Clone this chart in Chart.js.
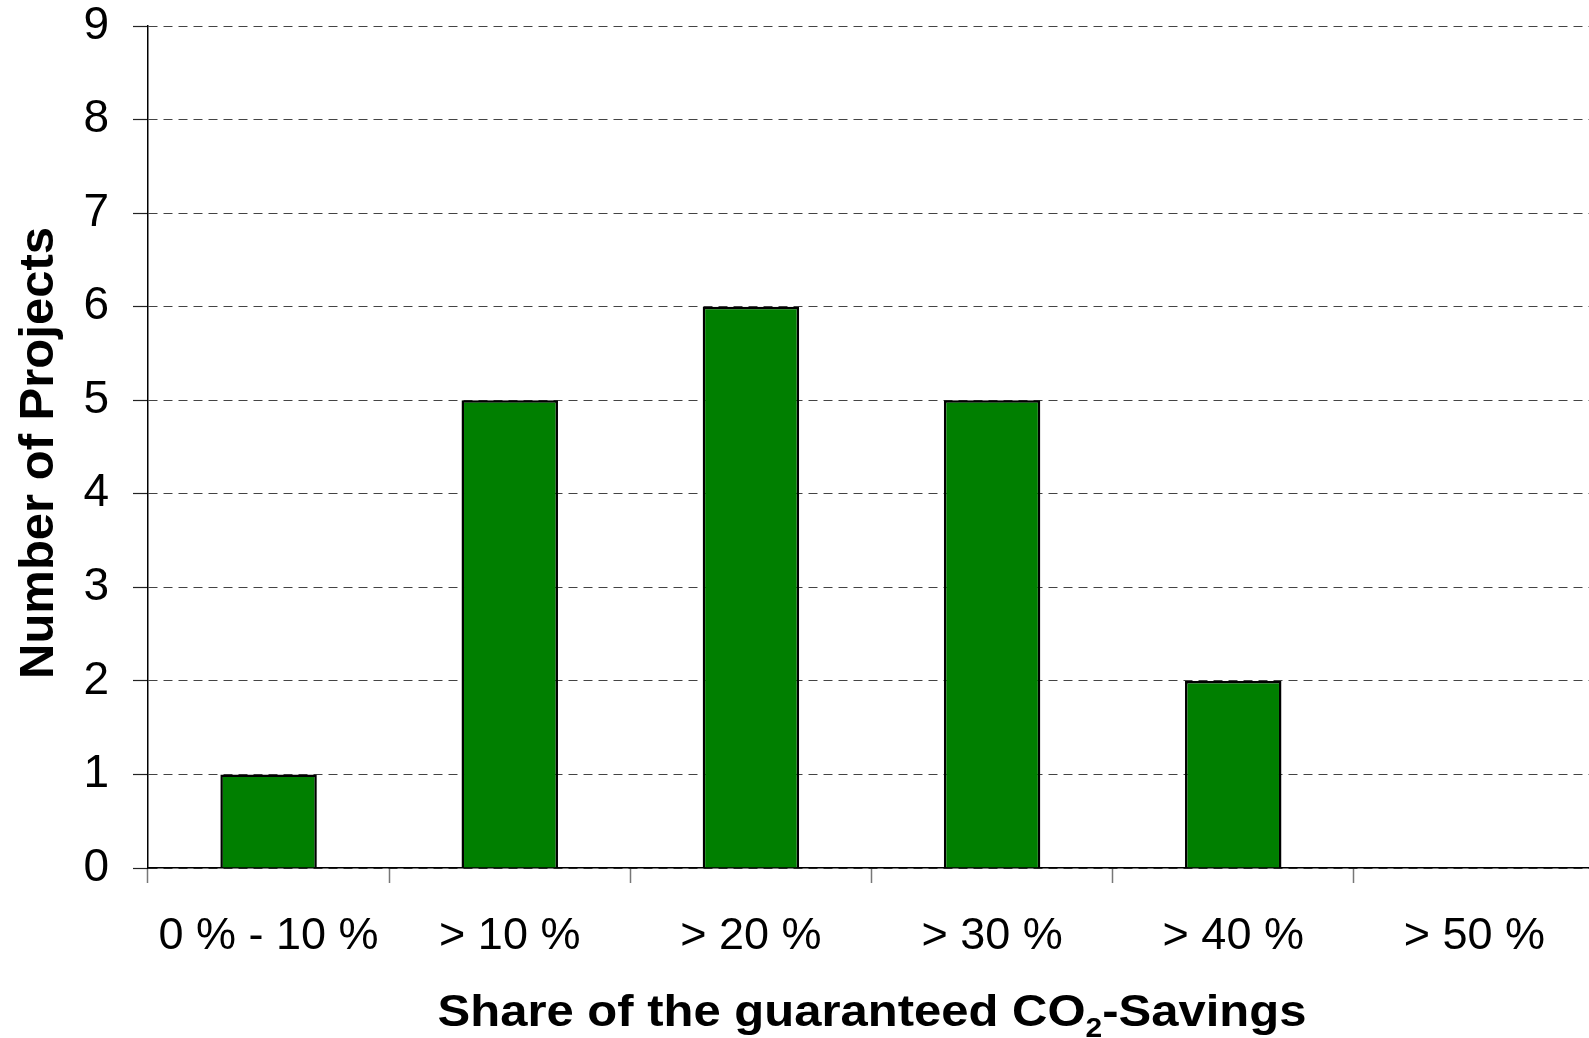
<!DOCTYPE html>
<html>
<head>
<meta charset="utf-8">
<title>Share of the guaranteed CO2-Savings</title>
<script src="https://cdn.jsdelivr.net/npm/chart.js@4.4.1/dist/chart.umd.min.js"></script>
<style>
  html, body { margin: 0; padding: 0; background: #fff; overflow: hidden; }
  canvas { display: block; }
</style>
</head>
<body>
<canvas id="chart" width="1595" height="1038"></canvas>
<script>
// Savings share classes and the number of projects in each
const categories = ['0 % - 10 %', '> 10 %', '> 20 %', '> 30 %', '> 40 %', '> 50 %'];
const projectCounts = [1, 5, 6, 5, 2, 0];
const yTicks = [0, 1, 2, 3, 4, 5, 6, 7, 8, 9];

const yTitle = 'Number of Projects';
const xTitleParts = [
  { text: 'Share of the guaranteed CO', sub: false },
  { text: '2', sub: true },
  { text: '-Savings', sub: false }
];

const FONT = "'Liberation Sans', Arial, Helvetica, sans-serif";
Chart.defaults.font.family = FONT;
Chart.defaults.color = '#000';

// Axis titles drawn by hand so the subscript in CO2 can be set
const axisTitles = {
  id: 'axisTitles',
  afterDraw(chart) {
    const ctx = chart.ctx;
    const area = chart.chartArea;

    // vertical title
    ctx.save();
    ctx.fillStyle = '#000';
    ctx.font = 'bold 49px ' + FONT;
    ctx.textAlign = 'center';
    ctx.textBaseline = 'alphabetic';
    ctx.translate(53, (area.top + area.bottom) / 2 + 6);
    ctx.rotate(-Math.PI / 2);
    ctx.fillText(yTitle, 0, 0);
    ctx.restore();

    // horizontal title with subscript
    ctx.save();
    ctx.fillStyle = '#000';
    ctx.textBaseline = 'alphabetic';
    ctx.textAlign = 'left';
    const mainFont = 'bold 49px ' + FONT;
    const subFont = 'bold 30px ' + FONT;
    let total = 0;
    const widths = xTitleParts.map(p => {
      ctx.font = p.sub ? subFont : mainFont;
      const w = ctx.measureText(p.text).width;
      total += w;
      return w;
    });
    const cx = 872;
    ctx.translate(cx - total / 2, 1026);
    ctx.scale(1, 0.92);
    let x = 0;
    xTitleParts.forEach((p, i) => {
      ctx.font = p.sub ? subFont : mainFont;
      ctx.fillText(p.text, x, p.sub ? 12 : 0);
      x += widths[i];
    });
    ctx.restore();
  }
};

new Chart(document.getElementById('chart'), {
  type: 'bar',
  data: {
    labels: categories,
    datasets: [{
      data: projectCounts,
      backgroundColor: '#007f00',
      borderColor: '#000',
      borderWidth: 2.5,
      categoryPercentage: 1.0,
      barPercentage: 0.4
    }]
  },
  options: {
    responsive: false,
    animation: false,
    devicePixelRatio: 1,
    layout: { padding: 0 },
    plugins: {
      legend: { display: false },
      tooltip: { enabled: false },
      title: { display: false }
    },
    scales: {
      x: {
        offset: true,
        afterFit(scale) {
          scale.height = 1038 - 868;
          scale.paddingLeft = 0;
          scale.paddingRight = 0;
        },
        grid: {
          display: true,
          offset: true,
          drawOnChartArea: false,
          drawTicks: true,
          tickLength: 15,
          tickColor: '#777',
          tickWidth: 1.5
        },
        border: { display: true, color: '#000', width: 1.5 },
        ticks: {
          font: { size: 45 },
          color: '#000',
          padding: 27,
          maxRotation: 0,
          autoSkip: false
        }
      },
      y: {
        min: 0,
        max: 9,
        afterFit(scale) {
          scale.width = 148;
          scale.paddingTop = 26;
          scale.paddingBottom = 0;
        },
        afterBuildTicks(scale) {
          scale.ticks = yTicks.map(v => ({ value: v }));
        },
        grid: {
          display: true,
          color: '#444',
          lineWidth: 1,
          drawTicks: true,
          tickLength: 15,
          tickColor: '#222',
          tickWidth: 1.2,
          tickBorderDash: []
        },
        // border.dash sets the dash of the value grid lines; the axis line stays solid
        border: { display: true, color: '#000', width: 1.5, dash: [9, 6] },
        ticks: {
          font: { size: 46 },
          color: '#000',
          padding: 24,
          stepSize: 1
        }
      }
    }
  },
  plugins: [axisTitles]
});
</script>
</body>
</html>
